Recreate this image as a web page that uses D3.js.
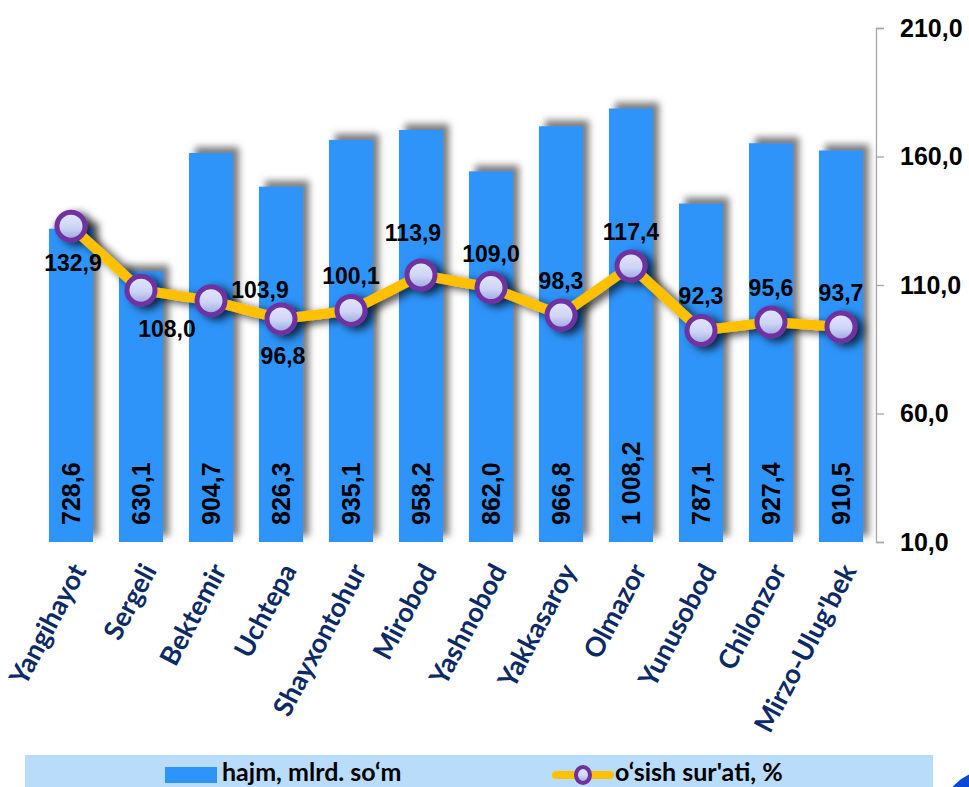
<!DOCTYPE html>
<html>
<head>
<meta charset="utf-8">
<script src="https://cdn.jsdelivr.net/npm/d3@7"></script>
<style>
  body { margin: 0; background: #fff; }
</style>
</head>
<body>
<script>
// districts and values
const districts = ['Yangihayot', 'Sergeli', 'Bektemir', 'Uchtepa', 'Shayxontohur', 'Mirobod',
  'Yashnobod', 'Yakkasaroy', 'Olmazor', 'Yunusobod', 'Chilonzor', "Mirzo-Ulug'bek"];
const hajm = [728.6, 630.1, 904.7, 826.3, 935.1, 958.2, 862.0, 966.8, 1008.2, 787.1, 927.4, 910.5];
const osish = [132.9, 108.0, 103.9, 96.8, 100.1, 113.9, 109.0, 98.3, 117.4, 92.3, 95.6, 93.7];
const labelSide = ['below', 'belowRight', 'right', 'below', 'above', 'aboveLeft',
  'above', 'above', 'above', 'above', 'above', 'above'];
const rightTicks = [10, 60, 110, 160, 210];
const legendNames = ['hajm, mlrd. so\u2018m', 'o\u2018sish sur\'ati, %'];

let width = 969;
let height = 787;

const loc = d3.formatLocale({decimal: ',', thousands: ' ', grouping: [3]});
const fmt = loc.format(',.1f');

const svg = d3.select('body')
  .append('svg')
  .attr('width', width)
  .attr('height', height);

const defs = svg.append('defs');

const barShadow = defs.append('filter').attr('id', 'barShadow')
  .attr('x', '-30%').attr('y', '-10%').attr('width', '160%').attr('height', '120%');
barShadow.append('feDropShadow')
  .attr('dx', 6).attr('dy', -6).attr('stdDeviation', 3.5)
  .attr('flood-color', '#6e6e6e').attr('flood-opacity', 0.9);

const lineShadow = defs.append('filter').attr('id', 'lineShadow')
  .attr('x', '-10%').attr('y', '-30%').attr('width', '120%').attr('height', '160%');
lineShadow.append('feDropShadow')
  .attr('dx', 6).attr('dy', 3).attr('stdDeviation', 4)
  .attr('flood-color', '#000').attr('flood-opacity', 0.75);

const grad = defs.append('linearGradient').attr('id', 'markerFill')
  .attr('x1', 0).attr('y1', 0).attr('x2', 0).attr('y2', 1);
grad.append('stop').attr('offset', '0%').attr('stop-color', '#e4e8fc');
grad.append('stop').attr('offset', '55%').attr('stop-color', '#cdd4f6');
grad.append('stop').attr('offset', '100%').attr('stop-color', '#98a3de');

const x = d3.scaleBand()
  .domain(districts)
  .range([36, 876])
  .paddingInner(0.37)
  .paddingOuter(0.185);

const yBar = d3.scaleLinear().domain([0, 1200]).range([542, 26]);
const yRate = d3.scaleLinear().domain([10, 210]).range([542, 28]);

// bars
svg.append('g').attr('id', 'bars')
  .selectAll('.bar').data(hajm)
  .enter().append('rect')
    .attr('class', 'bar')
    .attr('x', (d, i) => x(districts[i]))
    .attr('y', d => yBar(d))
    .attr('width', x.bandwidth())
    .attr('height', d => yBar(0) - yBar(d))
    .attr('fill', '#2d94f9')
    .attr('filter', 'url(#barShadow)');

// bar value labels
svg.append('g')
  .selectAll('text').data(hajm)
  .enter().append('text')
    .attr('transform', (d, i) => 'translate(' + (x(districts[i]) + x.bandwidth() / 2) + ',' + (yBar(0) - 17) + ') rotate(-90)')
    .attr('dy', '0.36em')
    .attr('font-family', 'Liberation Sans, Arial, sans-serif')
    .attr('font-weight', 'bold')
    .attr('font-size', 25)
    .attr('fill', '#000')
    .text(d => fmt(d));

// right axis
const axisR = d3.axisRight(yRate)
  .tickValues(rightTicks)
  .tickSize(8)
  .tickFormat(d => fmt(d));
const gR = svg.append('g')
  .attr('transform', 'translate(876,0)')
  .call(axisR);
gR.select('.domain').attr('stroke', '#a6a6a6').attr('stroke-width', 1.3);
gR.selectAll('.tick line').attr('stroke', '#a6a6a6').attr('stroke-width', 1.3);
gR.selectAll('.tick text')
  .attr('x', 24)
  .attr('font-family', 'Liberation Sans, Arial, sans-serif')
  .attr('font-weight', 'bold')
  .attr('font-size', 25)
  .attr('fill', '#000');

// category labels
svg.append('g')
  .selectAll('text').data(districts)
  .enter().append('text')
    .attr('transform', d => 'translate(' + (x(d) + x.bandwidth() / 2 + 8) + ',566) rotate(-62)')
    .attr('text-anchor', 'end')
    .attr('dy', '0.35em')
    .attr('font-family', 'Lato, sans-serif')
    .attr('font-weight', 'bold')
    .attr('font-size', 27)
    .attr('fill', '#0b2a66')
    .text(d => d);

// growth line
const cx = i => x(districts[i]) + x.bandwidth() / 2;
const line = d3.line()
  .x((d, i) => cx(i))
  .y(d => yRate(d));

const gLine = svg.append('g').attr('filter', 'url(#lineShadow)');
gLine.append('path').datum(osish)
  .attr('d', line)
  .attr('fill', 'none')
  .attr('stroke', '#ffc000')
  .attr('stroke-width', 10)
  .attr('stroke-linejoin', 'round');
gLine.selectAll('circle').data(osish)
  .enter().append('circle')
    .attr('cx', (d, i) => cx(i))
    .attr('cy', d => yRate(d))
    .attr('r', 14)
    .attr('fill', 'url(#markerFill)')
    .attr('stroke', '#7030a0')
    .attr('stroke-width', 5);

// line value labels
const off = {
  below: [2, 45], belowRight: [26, 47], right: [49, -3], above: [0, -26], aboveLeft: [-8, -34]
};
svg.append('g')
  .selectAll('text').data(osish)
  .enter().append('text')
    .attr('x', (d, i) => cx(i) + off[labelSide[i]][0])
    .attr('y', (d, i) => yRate(d) + off[labelSide[i]][1])
    .attr('text-anchor', 'middle')
    .attr('font-family', 'Liberation Sans, Arial, sans-serif')
    .attr('font-weight', 'bold')
    .attr('font-size', 23)
    .attr('fill', '#000')
    .text(d => fmt(d));

// legend
const lg = svg.append('g');
lg.append('rect')
  .attr('x', 25).attr('y', 755).attr('width', 908).attr('height', 40)
  .attr('fill', '#b9dcfb');
lg.append('rect')
  .attr('x', 165).attr('y', 767).attr('width', 52).attr('height', 16)
  .attr('fill', '#2d94f9');
lg.append('text')
  .attr('x', 222).attr('y', 781)
  .attr('font-family', 'Lato, sans-serif').attr('font-weight', 'bold')
  .attr('font-size', 25).attr('fill', '#000')
  .text(legendNames[0]);
lg.append('line')
  .attr('x1', 556).attr('x2', 610).attr('y1', 775).attr('y2', 775)
  .attr('stroke', '#ffc000').attr('stroke-width', 8).attr('stroke-linecap', 'round');
lg.append('ellipse')
  .attr('cx', 583).attr('cy', 775).attr('rx', 7).attr('ry', 8)
  .attr('fill', 'url(#markerFill)').attr('stroke', '#7030a0').attr('stroke-width', 4);
lg.append('text')
  .attr('x', 615).attr('y', 781)
  .attr('font-family', 'Lato, sans-serif').attr('font-weight', 'bold')
  .attr('font-size', 25).attr('fill', '#000')
  .text(legendNames[1]);

// blue corner decoration
svg.append('circle')
  .attr('cx', 990).attr('cy', 820).attr('r', 50)
  .attr('fill', '#0a48d6');
</script>
</body>
</html>
